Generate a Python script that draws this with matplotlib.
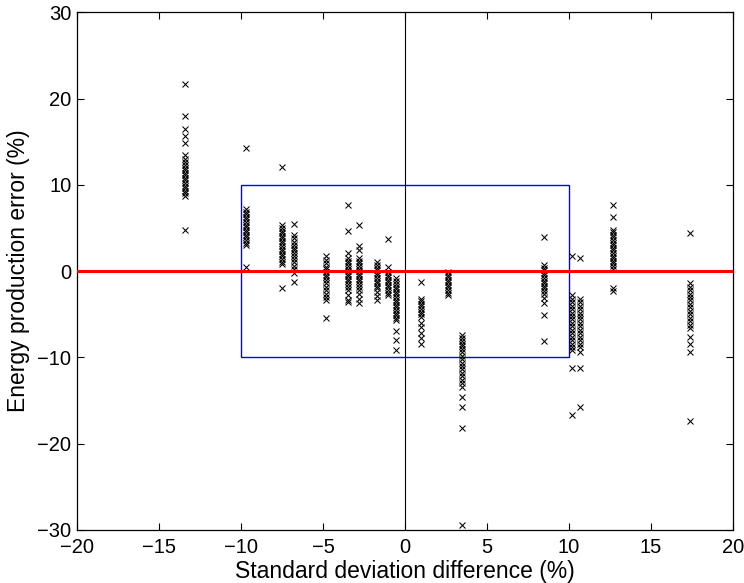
import matplotlib
matplotlib.use("Agg")
import matplotlib.pyplot as plt
from matplotlib.patches import Rectangle

plt.rcParams['font.family'] = ['Liberation Sans', 'DejaVu Sans']

# x positions (standard deviation difference, %) of each column of points
std_diff = [-13.4, -9.7, -7.5, -6.75, -4.8, -3.5, -2.8, -1.7, -1.05, -0.55,
            1.0, 2.6, 3.5, 8.5, 10.2, 10.7, 12.7, 17.4]

# energy production error (%) in each column
err_c1 = [21.7, 18.0, 16.5, 15.6, 14.8, 13.5, 13.0, 12.7, 12.3, 12.0, 11.7, 11.4,
          11.1, 10.8, 10.5, 10.2, 9.9, 9.6, 9.3, 9.0, 8.7, 4.8]
err_c2 = [14.3, 7.2, 6.9, 6.6, 6.3, 6.0, 5.7, 5.4, 5.1, 4.8, 4.5, 4.2, 3.9, 3.6,
          3.3, 3.0, 0.5]
err_c3 = [12.1, 5.3, 5.0, 4.7, 4.4, 4.1, 3.8, 3.5, 3.2, 2.9, 2.6, 2.3, 2.0, 1.7,
          1.4, 1.1, 0.8, -2.0]
err_c4 = [5.5, 4.2, 3.8, 3.4, 3.0, 2.7, 2.4, 2.1, 1.8, 1.4, 1.0, 0.6, 0.2, -0.2, -1.3]
err_c5 = [1.7, 1.3, 0.9, 0.5, 0.2, -0.1, -0.4, -0.7, -1.0, -1.4, -1.8, -2.2, -2.6,
          -3.0, -3.4, -5.4]
err_c6 = [7.7, 4.6, 2.1, 1.5, 1.2, 0.9, 0.6, 0.3, 0.0, -0.3, -0.6, -0.9, -1.2,
          -1.5, -1.8, -2.2, -2.8, -3.3, -3.6]
err_c7 = [5.4, 2.9, 2.4, 1.5, 1.2, 0.9, 0.6, 0.3, 0.0, -0.3, -0.6, -0.9, -1.2,
          -1.5, -1.8, -2.2, -2.6, -3.2, -3.7]
err_c8 = [1.0, 0.7, 0.4, 0.1, -0.2, -0.5, -0.8, -1.1, -1.4, -1.7, -2.0, -2.4, -2.9, -3.4]
err_c9 = [3.7, 0.5, -0.1, -0.4, -0.7, -1.0, -1.3, -1.6, -1.9, -2.2, -2.5, -2.8]
err_c10 = [-0.8, -1.2, -1.5, -1.8, -2.1, -2.4, -2.7, -3.0, -3.3, -3.6, -3.9, -4.2,
           -4.5, -4.8, -5.1, -5.4, -5.7, -7.0, -8.0, -9.1]
err_c11 = [-1.3, -3.2, -3.5, -3.8, -4.1, -4.4, -4.7, -5.0, -5.3, -6.0, -6.5, -7.2,
           -7.8, -8.4]
err_c12 = [-0.1, -0.4, -0.7, -1.0, -1.3, -1.6, -1.9, -2.2, -2.5, -2.8]
err_c13 = [-7.4, -7.8, -8.1, -8.4, -8.7, -9.0, -9.4, -9.8, -10.2, -10.6, -11.0,
           -11.4, -11.8, -12.2, -12.6, -13.0, -13.4, -14.6, -15.7, -18.2, -29.4]
err_c14 = [3.9, 0.7, 0.4, 0.1, -0.2, -0.5, -0.8, -1.1, -1.4, -1.7, -2.0, -2.3,
           -2.7, -3.1, -3.7, -5.1, -8.1]
err_c15 = [1.7, -2.8, -3.2, -3.6, -4.0, -4.4, -4.8, -5.2, -5.6, -6.0, -6.4, -6.8,
           -7.2, -7.6, -8.0, -8.4, -8.8, -9.2, -11.2, -16.7]
err_c16 = [1.5, -3.2, -3.6, -4.0, -4.4, -4.8, -5.2, -5.6, -6.0, -6.4, -6.8, -7.2,
           -7.6, -8.0, -8.4, -8.8, -9.4, -11.2, -15.7]
err_c17 = [7.7, 6.3, 4.8, 4.5, 4.2, 3.9, 3.6, 3.3, 3.0, 2.7, 2.4, 2.1, 1.8, 1.5,
           1.2, 0.9, 0.6, 0.2, -2.0, -2.3]
err_c18 = [4.4, -1.4, -1.8, -2.2, -2.6, -3.0, -3.4, -3.8, -4.2, -4.6, -5.0, -5.4,
           -5.8, -6.2, -6.6, -7.6, -8.4, -9.4, -17.4]

columns = [err_c1, err_c2, err_c3, err_c4, err_c5, err_c6, err_c7, err_c8, err_c9,
           err_c10, err_c11, err_c12, err_c13, err_c14, err_c15, err_c16, err_c17,
           err_c18]

# tolerance box (%)
box_x = [-10, 10]
box_y = [-10, 10]

x_ticks = [-20, -15, -10, -5, 0, 5, 10, 15, 20]
y_ticks = [-30, -20, -10, 0, 10, 20, 30]

fig = plt.figure(figsize=(7.44, 5.83), dpi=100)
ax = fig.add_axes([0.1035, 0.091, 0.8815, 0.888])

xs, ys = [], []
for xv, col in zip(std_diff, columns):
    xs.extend([xv] * len(col))
    ys.extend(col)

ax.axvline(0, color='black', lw=0.8, zorder=1)
ax.add_patch(Rectangle((box_x[0], box_y[0]), box_x[1] - box_x[0], box_y[1] - box_y[0],
                       fill=False, edgecolor='#0000ff', lw=1.0, zorder=2))
ax.plot(xs, ys, linestyle='none', marker='x', color='black', markersize=5,
        markeredgewidth=0.75, zorder=3)
ax.axhline(0, color='#ff0000', lw=2.2, zorder=4)

ax.set_xlim(x_ticks[0], x_ticks[-1])
ax.set_ylim(y_ticks[0], y_ticks[-1])
ax.set_xticks(x_ticks)
ax.set_yticks(y_ticks)
ax.set_xticklabels(['\u2212' + str(-t) if t < 0 else str(t) for t in x_ticks])
ax.set_yticklabels(['\u2212' + str(-t) if t < 0 else str(t) for t in y_ticks])
ax.tick_params(direction='in', top=True, right=True, length=5, width=0.8,
               labelsize=14.5)
ax.tick_params(axis='x', pad=6)
ax.tick_params(axis='y', pad=4)
for s in ax.spines.values():
    s.set_linewidth(0.9)

ax.set_xlabel('Standard deviation difference (%)', fontsize=16.5, labelpad=2)
ax.set_ylabel('Energy production error (%)', fontsize=16.5, labelpad=5)

fig.savefig('out.png', dpi=100)
